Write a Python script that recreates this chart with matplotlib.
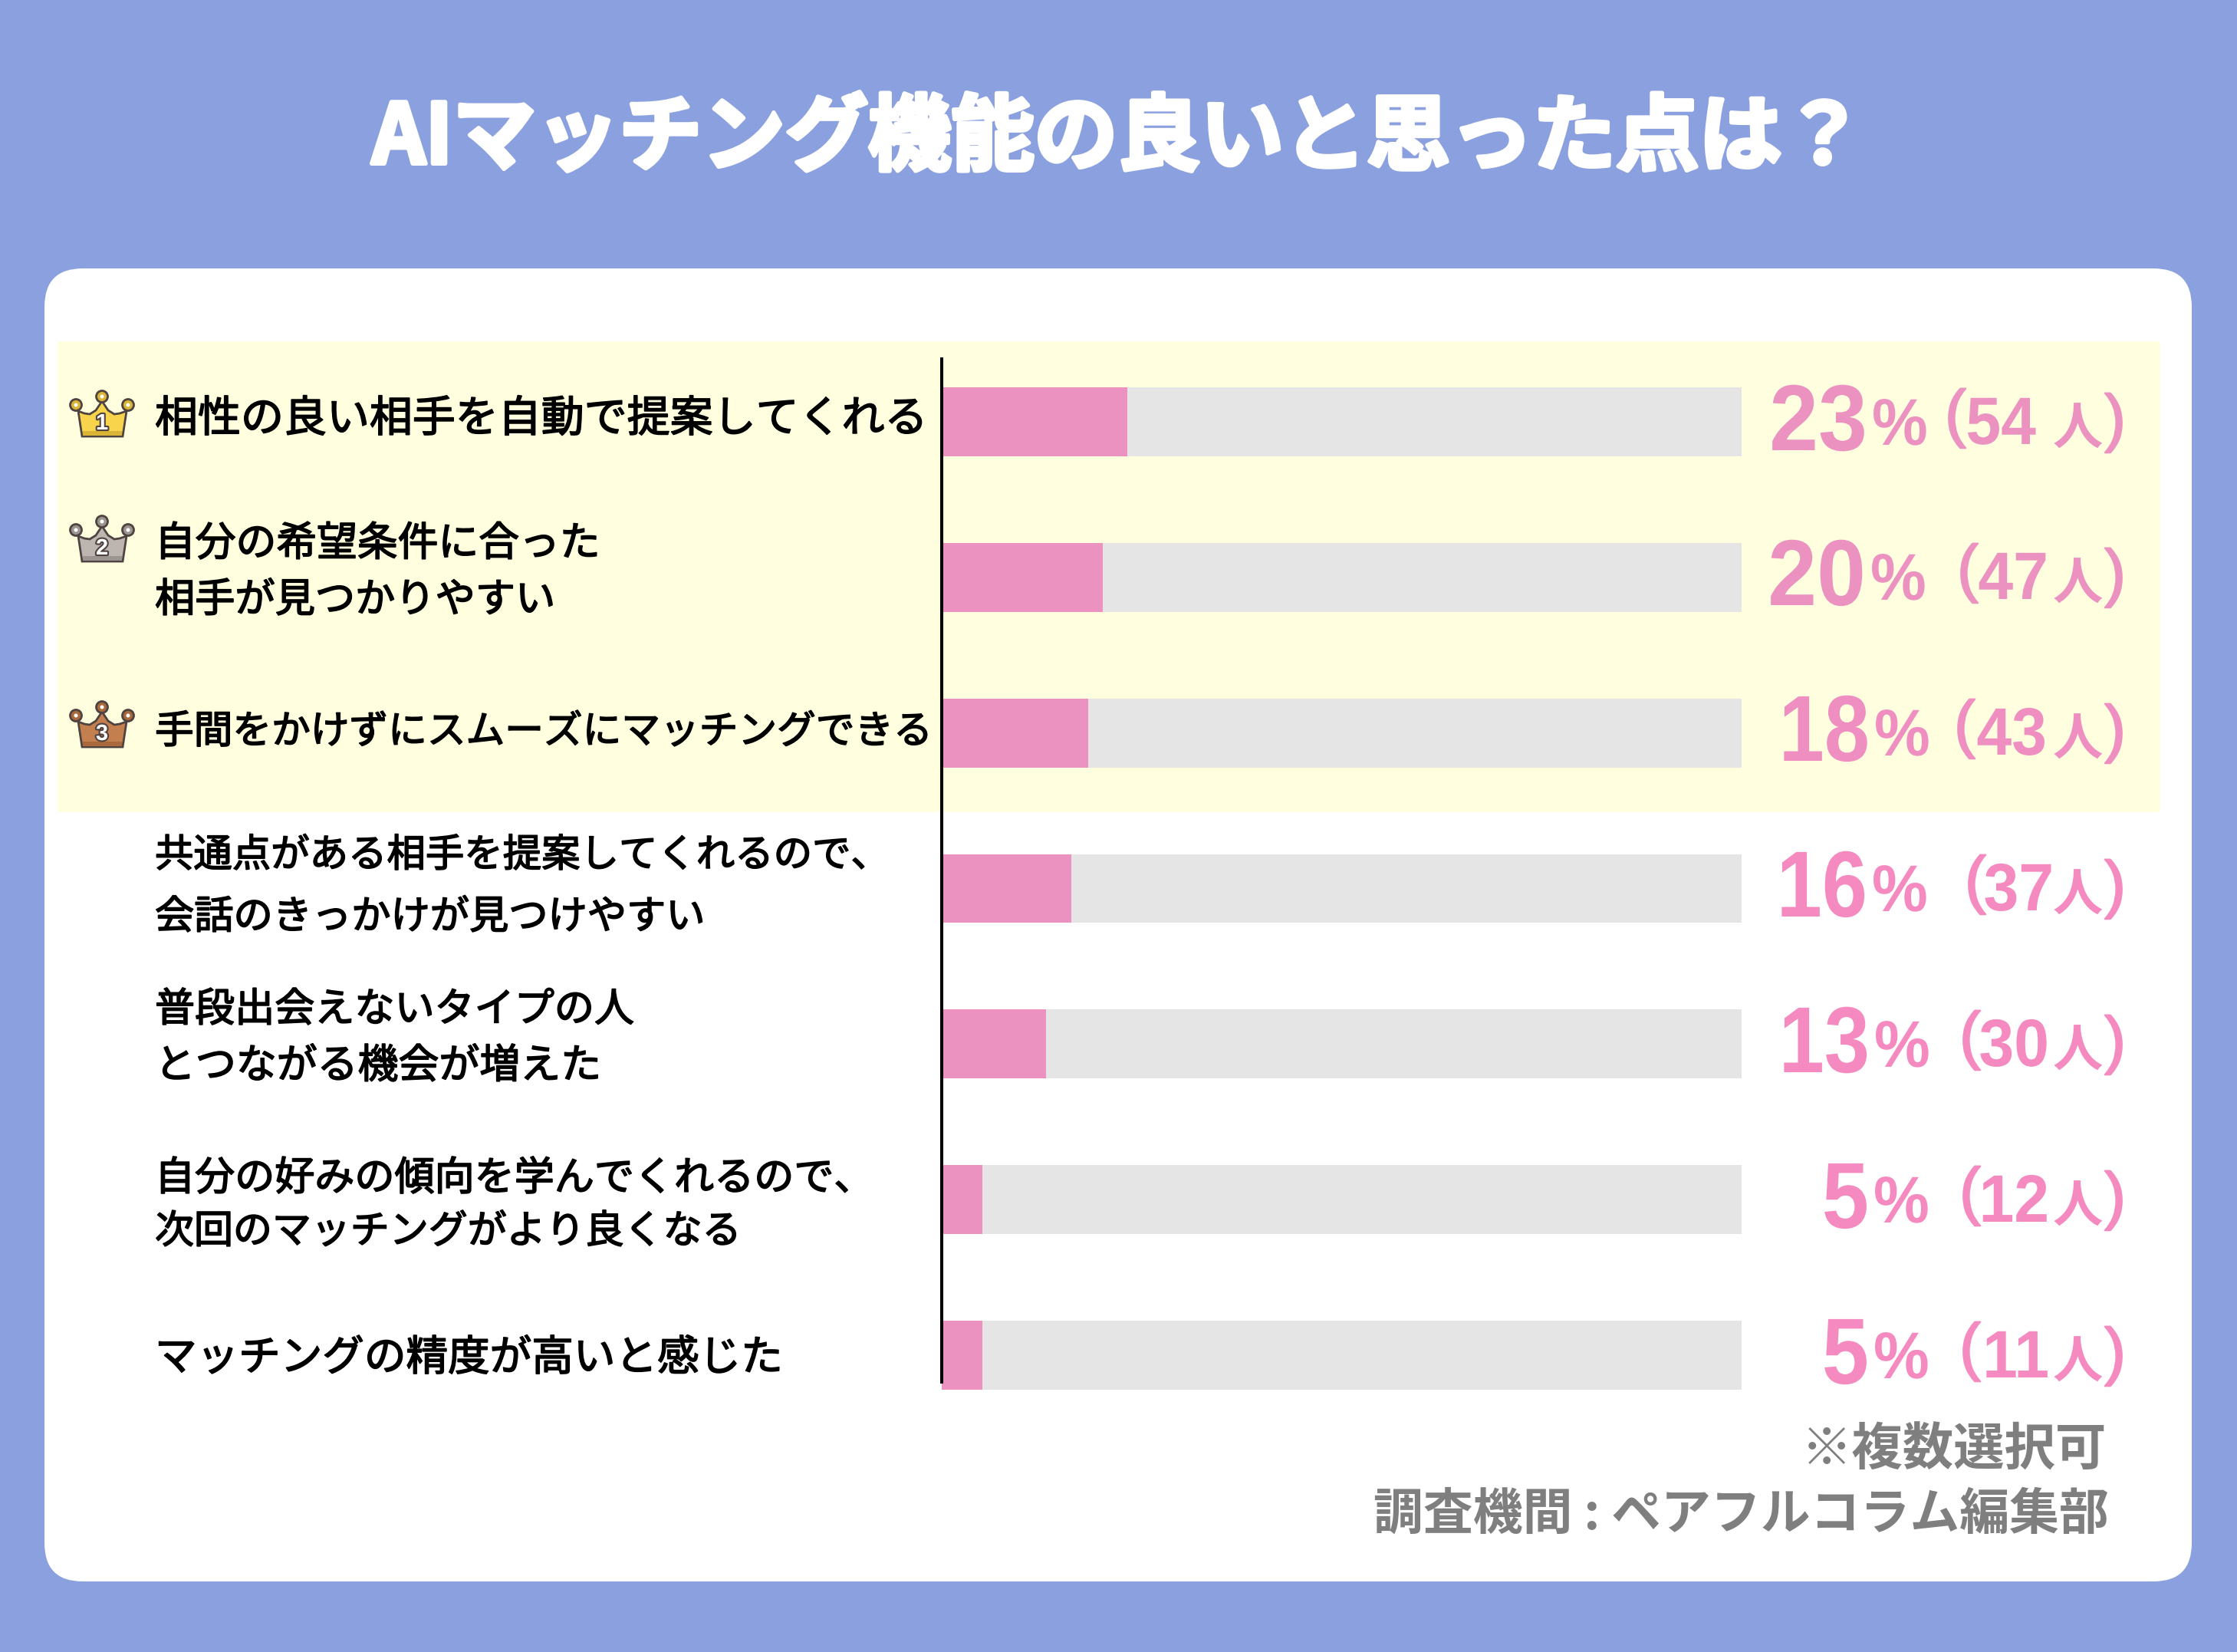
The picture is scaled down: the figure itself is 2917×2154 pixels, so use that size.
import matplotlib
matplotlib.use("Agg")
import matplotlib.pyplot as plt
import matplotlib.patheffects as pe
from matplotlib.patches import FancyBboxPatch, Rectangle, Polygon, Circle
from matplotlib.transforms import Affine2D

W, H = 2917, 2154
JP = ["Noto Sans CJK JP", "DejaVu Sans"]
NUM = ["Liberation Sans", "DejaVu Sans"]

title = "AIマッチング機能の良いと思った点は？"
labels = [
    ["相性の良い相手を自動で提案してくれる"],
    ["自分の希望条件に合った", "相手が見つかりやすい"],
    ["手間をかけずにスムーズにマッチングできる"],
    ["共通点がある相手を提案してくれるので、", "会話のきっかけが見つけやすい"],
    ["普段出会えないタイプの人", "とつながる機会が増えた"],
    ["自分の好みの傾向を学んでくれるので、", "次回のマッチングがより良くなる"],
    ["マッチングの精度が高いと感じた"],
]
percents = [23, 20, 18, 16, 13, 5, 5]
counts = [54, 47, 43, 37, 30, 12, 11]
bar_lengths = [23.2, 20.1, 18.3, 16.2, 13.0, 5.1, 5.1]
footer_lines = ["※複数選択可", "調査機間 : ペアフルコラム編集部"]

# layout, in pixels of the final image
label_y = [[547], [709, 783], [955], [1116, 1196], [1317, 1390], [1537, 1606], [1771]]
label_size = [[40.3], [38, 37.6], [36.5], [36.3, 36.9], [37.5, 38.1], [37.5, 36.7], [39.3]]
row_y = [549, 751, 954, 1157, 1360, 1563, 1766]
pct_shift = [0, -2, 3, 0, 3, 2, 2]
pct_squeeze = [0.94, 0.94, 0.87, 0.87, 0.87, 0.9, 0.9]
paren_x = [2536, 2552, 2548, 2562, 2555, 2555, 2555]
count_right = [2655, 2671, 2669, 2678, 2672, 2672, 2672]

BG = "#8BA0DE"
PINK = "#EB92C1"
PINK_TEXT = ["#EB92C1", "#EB92C1", "#EF8FC1", "#F48ABF", "#F48ABF", "#F48ABF", "#F48ABF"]
GREY = "#E5E5E5"
FOOT = "#7F7F7F"


class Squeeze(pe.AbstractPathEffect):
    # narrows a text sideways around x0, there is no condensed font installed
    def __init__(self, sx, x0):
        super().__init__()
        self.sx = sx
        self.x0 = x0

    def draw_path(self, renderer, gc, tpath, affine, rgbFace=None):
        squeezed = affine + Affine2D().translate(-self.x0, 0).scale(self.sx, 1).translate(self.x0, 0)
        renderer.draw_path(gc, tpath, squeezed, rgbFace)


fig = plt.figure(figsize=(W / 100, H / 100), dpi=100, facecolor=BG)

# full-figure axes working in pixels
ax = fig.add_axes([0, 0, 1, 1])
ax.set_xlim(0, W)
ax.set_ylim(H, 0)
ax.axis("off")

ax.add_patch(FancyBboxPatch((108, 400), 2700, 1612, boxstyle="round,pad=50,rounding_size=50",
                            fc="white", ec="none"))
ax.add_patch(Rectangle((75, 445), 2742, 614, fc="#FFFFE0", ec="none"))

ax.text(1459, 182, title, color="white", fontsize=78, fontweight="bold", family=JP,
        ha="center", va="center", path_effects=[pe.withStroke(linewidth=4, foreground="white")])


def crown(cx, top, body, dark, number):
    # small rank crown, about 83 px wide and 60 px tall
    line = "#4E4340"
    pts = [(cx - 26, top + 60), (cx - 31, top + 27), (cx - 23, top + 30), (cx - 16, top + 31),
           (cx - 8, top + 26), (cx, top + 14), (cx + 8, top + 26), (cx + 16, top + 31),
           (cx + 23, top + 30), (cx + 32, top + 27), (cx + 27, top + 60)]
    ax.add_patch(Polygon(pts, closed=True, fc=body, ec=line, lw=2, zorder=3))
    ax.add_patch(Rectangle((cx - 25, top + 53), 51, 6, fc=dark, ec="none", zorder=4))
    for dx, dy in [(-34, 19), (0, 8), (34, 19)]:
        ax.add_patch(Circle((cx + dx, top + dy), 7.5, fc=dark, ec=line, lw=2, zorder=5))
        ax.add_patch(Circle((cx + dx, top + dy), 2.5, fc="white", ec="none", zorder=6))
    ax.text(cx, top + 43, number, color="white", fontsize=21, fontweight="bold", family=NUM,
            ha="center", va="center", zorder=7,
            path_effects=[pe.withStroke(linewidth=3, foreground=line)])


crown(133, 509, "#F8D44C", "#D9B435", "1")
crown(133, 672, "#BDB5B0", "#9B9490", "2")
crown(133, 914, "#C47F4E", "#A9693D", "3")

for lines, ys, sizes in zip(labels, label_y, label_size):
    for line, y, size in zip(lines, ys, sizes):
        ax.text(202, y, line, color="black", fontsize=size, family=JP, ha="left", va="center",
                path_effects=[pe.withStroke(linewidth=1.2, foreground="black")])

# bars: x axis runs 0-100 across the grey track
bar_ax = fig.add_axes([1228 / W, 1 - 1802 / H, (2271 - 1228) / W, (1802 - 468) / H])
bar_ax.patch.set_alpha(0)
positions = list(range(len(bar_lengths)))
bar_ax.barh(positions, [100] * len(bar_lengths), height=90 / 203, color=GREY, clip_on=False)
bar_ax.barh(positions, bar_lengths, height=90 / 203, color=PINK, clip_on=False)
bar_ax.set_xlim(0, 100)
bar_ax.set_ylim(6 + 35 / 203, -82 / 203)
for side in ["top", "right", "bottom"]:
    bar_ax.spines[side].set_visible(False)
bar_ax.spines["left"].set_linewidth(2.9)
bar_ax.spines["left"].set_color("black")
bar_ax.spines["left"].set_zorder(5)
bar_ax.set_xticks([])
bar_ax.set_yticks([])

for i, (pct, cnt, y) in enumerate(zip(percents, counts, row_y)):
    color = PINK_TEXT[i]
    right = 2435 + pct_shift[i]
    ax.text(right, y + 38, str(pct), color=color, fontsize=88, fontweight="bold", family=NUM,
            ha="right", va="baseline", path_effects=[Squeeze(pct_squeeze[i], right)])
    left = 2441 + pct_shift[i]
    ax.text(left, y + 31, "%", color=color, fontsize=62, fontweight="bold", family=NUM,
            ha="left", va="baseline", path_effects=[Squeeze(0.95, left)])
    ax.text(paren_x[i], y + 18, "(", color=color, fontsize=60, family=NUM, ha="left", va="baseline",
            path_effects=[pe.withStroke(linewidth=1.5, foreground=color)])
    ax.text(count_right[i], y + 30, str(cnt), color=color, fontsize=63, fontweight="bold", family=NUM,
            ha="right", va="baseline", path_effects=[Squeeze(0.94, count_right[i])])
    ax.text(2709, y + 31, "人", color=color, fontsize=47, fontweight="bold", family=JP,
            ha="center", va="baseline")
    ax.text(2772, y + 24, ")", color=color, fontsize=60, family=NUM, ha="right", va="baseline",
            path_effects=[pe.withStroke(linewidth=1.5, foreground=color)])

ax.text(2747, 1911, footer_lines[0], color=FOOT, fontsize=47.8, fontweight="bold", family=JP,
        ha="right", va="baseline")
ax.text(2750, 1994, footer_lines[1], color=FOOT, fontsize=46.7, fontweight="bold", family=JP,
        ha="right", va="baseline")

fig.savefig("out.png", dpi=100, facecolor=BG)
